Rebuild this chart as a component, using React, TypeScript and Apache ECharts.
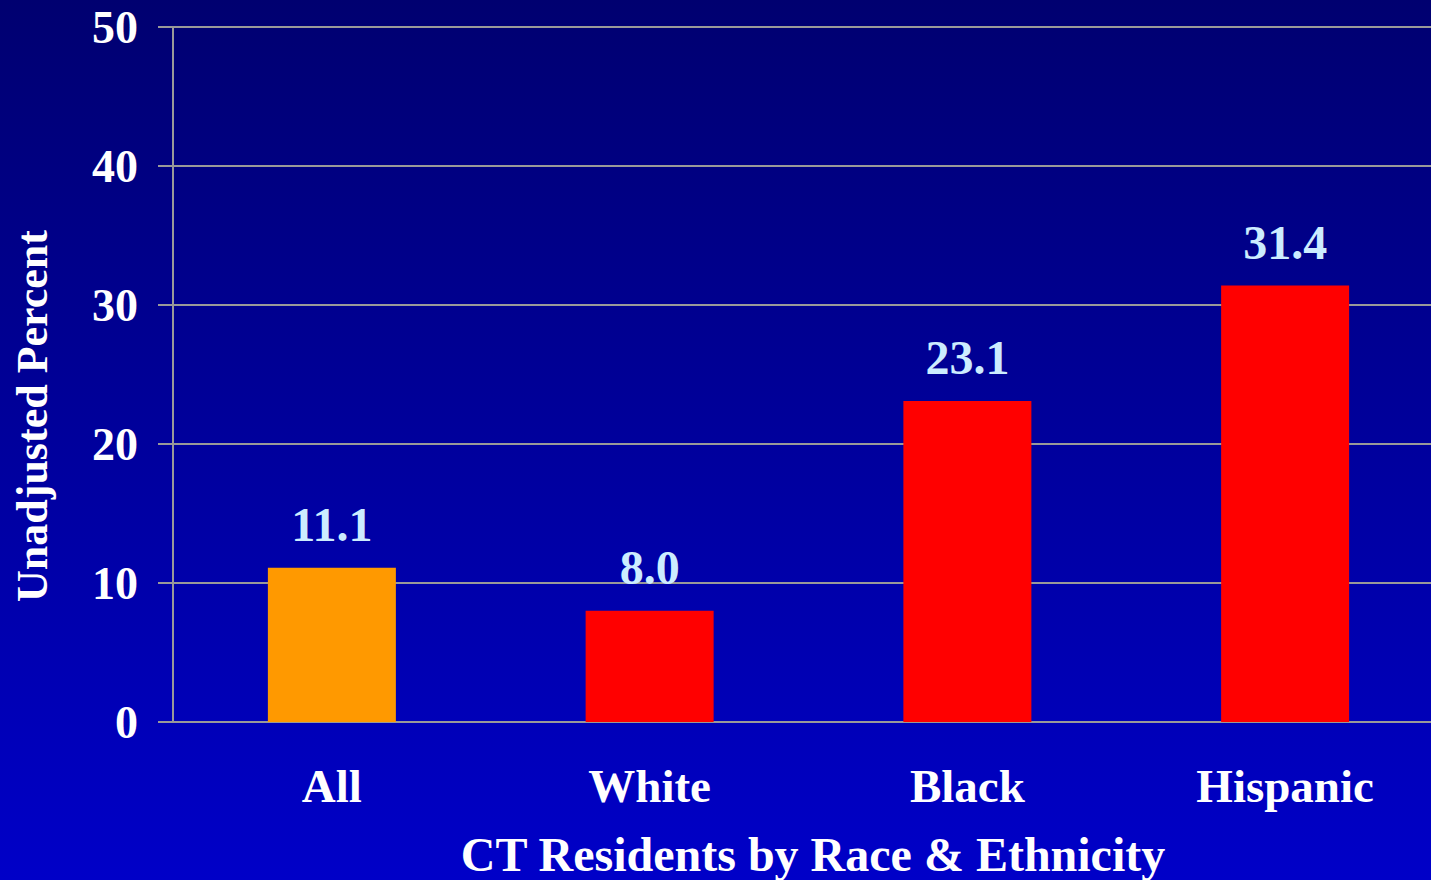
import React, { useEffect, useRef } from "react";
import * as echarts from "echarts";

const categories = ["All", "White", "Black", "Hispanic"];
const values = [11.1, 8.0, 23.1, 31.4];
const barColors = ["#FF9900", "#FF0000", "#FF0000", "#FF0000"];
const yTitle = "Unadjusted Percent";
const xTitle = "CT Residents by Race & Ethnicity";

const FONT = "'Liberation Serif', 'Times New Roman', serif";

export default function App() {
  const ref = useRef<HTMLDivElement>(null);
  useEffect(() => {
    if (!ref.current) return;
    const chart = echarts.init(ref.current, null, { renderer: "svg" });
    chart.setOption({
      animation: false,
      backgroundColor: new echarts.graphic.LinearGradient(0, 0, 0, 1, [
        { offset: 0, color: "#000070" },
        { offset: 1, color: "#0000C8" },
      ]),
      grid: { left: 173, top: 27, width: 1271, height: 695, containLabel: false },
      xAxis: {
        type: "category",
        data: categories,
        axisLine: { show: true, lineStyle: { color: "#999999", width: 2 } },
        axisTick: { show: false },
        axisLabel: {
          color: "#FFFFFF",
          fontFamily: FONT,
          fontWeight: "bold",
          fontSize: 47,
          margin: 40,
        },
        splitLine: { show: false },
      },
      yAxis: {
        type: "value",
        min: 0,
        max: 50,
        interval: 10,
        axisLine: { show: true, lineStyle: { color: "#999999", width: 2 } },
        axisTick: { show: true, length: 15, lineStyle: { color: "#999999", width: 2 } },
        axisLabel: {
          color: "#FFFFFF",
          fontFamily: FONT,
          fontWeight: "bold",
          fontSize: 46,
          margin: 35,
        },
        splitLine: { show: true, lineStyle: { color: "#999999", width: 2 } },
      },
      series: [
        {
          type: "bar",
          barWidth: 128,
          data: values.map((v, i) => ({ value: v, itemStyle: { color: barColors[i] } })),
          label: {
            show: true,
            position: "top",
            distance: 19,
            color: "#CCECFF",
            fontFamily: FONT,
            fontWeight: "bold",
            fontSize: 48,
            formatter: (p: any) => Number(p.value).toFixed(1),
          },
        },
      ],
      graphic: [
        {
          type: "text",
          x: 32,
          y: 416,
          rotation: Math.PI / 2,
          style: {
            text: yTitle,
            fill: "#FFFFFF",
            font: `bold 44px ${FONT}`,
            align: "center",
            verticalAlign: "middle",
          },
        },
        {
          type: "text",
          x: 813,
          y: 854,
          style: {
            text: xTitle,
            fill: "#FFFFFF",
            font: `bold 48px ${FONT}`,
            align: "center",
            verticalAlign: "middle",
          },
        },
      ],
    });
    return () => chart.dispose();
  }, []);
  return (
    <div
      style={{
        position: "fixed",
        left: 0,
        top: 0,
        width: 1431,
        height: 880,
        overflow: "hidden",
      }}
    >
      <div ref={ref} style={{ width: 1444, height: 880 }} />
    </div>
  );
}
